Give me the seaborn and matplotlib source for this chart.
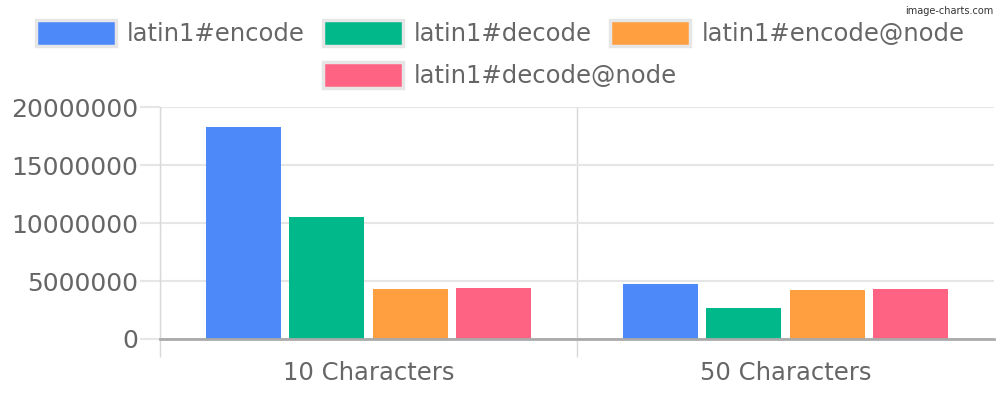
import pandas as pd
import matplotlib
matplotlib.use("Agg")
import matplotlib.pyplot as plt
from matplotlib.patches import Patch
import seaborn as sns

# data
categories = ["10 Characters", "50 Characters"]
series = ["latin1#encode", "latin1#decode", "latin1#encode@node", "latin1#decode@node"]
encode = [18270000, 4790000]
decode = [10540000, 2680000]
encode_node = [4300000, 4240000]
decode_node = [4380000, 4320000]
colors = ["#4D89F9", "#00B88A", "#FF9F40", "#FF6384"]
yticks = [0, 5000000, 10000000, 15000000, 20000000]

values = [encode, decode, encode_node, decode_node]
df = pd.DataFrame(
    [(cat, name, vals[i]) for name, vals in zip(series, values)
     for i, cat in enumerate(categories)],
    columns=["category", "series", "value"],
)

sns.set_theme(style="white")
plt.rcParams["font.family"] = ["DejaVu Sans"]

fig = plt.figure(figsize=(10, 4), dpi=100)
ax = fig.add_axes([0.16, 0.1525, 0.834, 0.5793])

sns.barplot(
    data=df, x="category", y="value", hue="series",
    order=categories, hue_order=series, palette=colors,
    width=0.8, gap=0.1, linewidth=0, saturation=1,
    legend=False, ax=ax,
)

ax.set_xlim(-0.5, 1.5)
ax.set_ylim(0, 20000000)
ax.set_xlabel("")
ax.set_ylabel("")

grid_c = "#e6e6e6"
text_c = "#666666"

ax.set_yticks(yticks)
ax.set_yticklabels([str(v) for v in yticks])
ax.tick_params(axis="y", length=14.4, width=1.5, color=grid_c, pad=1.5,
               labelsize=18, labelcolor=text_c, left=True)
ax.yaxis.grid(True, color=grid_c, linewidth=1.5)
ax.yaxis.get_major_ticks()[0].tick1line.set_color("#aaaaaa")

ax.set_xticks([0, 1])
ax.set_xticklabels(categories)
ax.set_xticks([-0.5, 0.5], minor=True)
ax.tick_params(axis="x", which="major", length=0, pad=16,
               labelsize=17.5, labelcolor=text_c)
ax.tick_params(axis="x", which="minor", length=13, width=1, color="#d9d9d9",
               bottom=True)
ax.xaxis.grid(True, which="minor", color="#d9d9d9", linewidth=1)
ax.set_axisbelow(True)

for side in ["top", "right"]:
    ax.spines[side].set_visible(False)
ax.spines["left"].set_color("#d9d9d9")
ax.spines["left"].set_linewidth(1)
ax.spines["bottom"].set_color("#aaaaaa")
ax.spines["bottom"].set_linewidth(2)

handles = [Patch(facecolor=c, edgecolor=grid_c, linewidth=2.5, label=s)
           for c, s in zip(colors, series)]
leg_kw = dict(loc="center", frameon=False, fontsize=17.5, labelcolor=text_c,
              handlelength=3.3, handleheight=1.3, handletextpad=0.45,
              columnspacing=0.75)
fig.legend(handles=handles[:3], ncol=3,
           bbox_to_anchor=(0.5, 0.9175), **leg_kw)
fig.legend(handles=handles[3:], ncol=1,
           bbox_to_anchor=(0.5, 0.8125), **leg_kw)

fig.text(0.993, 0.985, "image-charts.com", ha="right", va="top",
         fontsize=7, color="#333333")

fig.savefig("out.png", dpi=100)
